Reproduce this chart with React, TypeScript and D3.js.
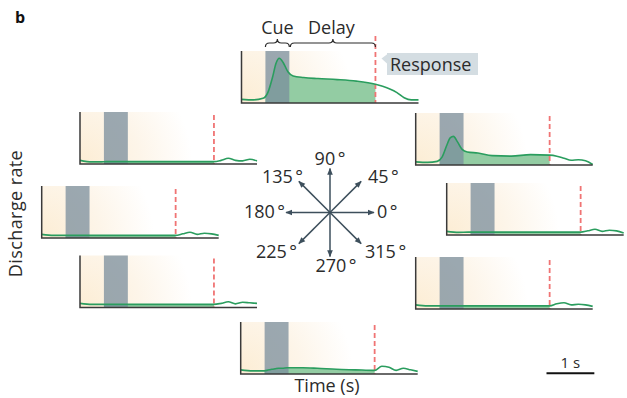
import React from 'react';
import * as d3 from 'd3';

// time axis shared by every trace (s)
const TIME = [0, 0.25, 0.45, 0.55, 0.65, 0.72, 0.79, 0.87, 0.97, 1.08, 1.3, 1.6, 2.0, 2.4, 2.8, 2.95, 3.1, 3.25, 3.4, 3.55, 3.7];
const CUE = [0.5, 1.0];
const RESPONSE = 2.8;
const T_END = 3.7;

// normalised discharge rate per direction
const RATE_90 = [0.07, 0.06, 0.09, 0.2, 0.5, 0.76, 0.86, 0.78, 0.6, 0.52, 0.49, 0.47, 0.45, 0.42, 0.36, 0.32, 0.27, 0.2, 0.1, 0.06, 0.06];
const RATE_45 = [0.06, 0.05, 0.07, 0.15, 0.38, 0.52, 0.55, 0.45, 0.3, 0.25, 0.23, 0.18, 0.17, 0.2, 0.19, 0.17, 0.13, 0.09, 0.1, 0.08, 0.01];
const RATE_135 = [0.07, 0.04, 0.04, 0.045, 0.045, 0.045, 0.045, 0.045, 0.045, 0.045, 0.045, 0.045, 0.045, 0.045, 0.045, 0.07, 0.11, 0.07, 0.06, 0.09, 0.06];
const RATE_180 = [0.07, 0.05, 0.05, 0.05, 0.05, 0.05, 0.05, 0.05, 0.05, 0.05, 0.05, 0.05, 0.05, 0.05, 0.05, 0.08, 0.11, 0.07, 0.09, 0.08, 0.05];
const RATE_0 = [0.07, 0.05, 0.055, 0.055, 0.055, 0.055, 0.055, 0.055, 0.055, 0.055, 0.055, 0.055, 0.055, 0.055, 0.055, 0.08, 0.11, 0.07, 0.09, 0.08, 0.04];
const RATE_225 = [0.08, 0.06, 0.06, 0.06, 0.06, 0.06, 0.06, 0.06, 0.06, 0.06, 0.06, 0.06, 0.06, 0.06, 0.06, 0.08, 0.11, 0.07, 0.1, 0.09, 0.08];
const RATE_315 = [0.08, 0.06, 0.06, 0.06, 0.06, 0.06, 0.06, 0.06, 0.06, 0.06, 0.06, 0.06, 0.06, 0.06, 0.06, 0.1, 0.12, 0.08, 0.09, 0.08, 0.05];
const RATE_270 = [0.08, 0.06, 0.06, 0.07, 0.09, 0.1, 0.11, 0.11, 0.12, 0.12, 0.12, 0.11, 0.09, 0.08, 0.07, 0.15, 0.13, 0.07, 0.11, 0.08, 0.05];

const DIRECTIONS = [0, 45, 90, 135, 180, 225, 270, 315];
const DIR_LABELS = ['0', '45', '90', '135', '180', '225', '270', '315'];

// panel placement (left of y axis, baseline)
const PANELS = [
  { dir: 90, rates: RATE_90, x: 241.5, y: 103 },
  { dir: 135, rates: RATE_135, x: 80, y: 164 },
  { dir: 45, rates: RATE_45, x: 415.7, y: 165 },
  { dir: 180, rates: RATE_180, x: 41.7, y: 238 },
  { dir: 0, rates: RATE_0, x: 446.7, y: 235 },
  { dir: 225, rates: RATE_225, x: 80, y: 307.5 },
  { dir: 315, rates: RATE_315, x: 415.7, y: 309 },
  { dir: 270, rates: RATE_270, x: 240.7, y: 374 },
];

// compass label offsets from centre
const LABEL_POS = {
  0: { dx: 47, dy: 5.5, anchor: 'start' },
  45: { dx: 38, dy: -30, anchor: 'start' },
  90: { dx: 0, dy: -47.5, anchor: 'middle' },
  135: { dx: -27, dy: -30, anchor: 'end' },
  180: { dx: -45, dy: 5.5, anchor: 'end' },
  225: { dx: -33, dy: 45.5, anchor: 'end' },
  270: { dx: 6, dy: 59.5, anchor: 'middle' },
  315: { dx: 35, dy: 45.5, anchor: 'start' },
};

const W = 177;
const H = 52;
const FONT = '"Open Sans", "Noto Sans", sans-serif';
const INK = '#2b2b2b';

const x = d3.scaleLinear().domain([0, T_END]).range([0, W]);
const y = d3.scaleLinear().domain([0, 1]).range([H, 0]);

const line = d3
  .line<number>()
  .x((d, i) => x(TIME[i]))
  .y((d) => y(d))
  .curve(d3.curveMonotoneX);

const area = d3
  .area<number>()
  .x((d, i) => x(TIME[i]))
  .y0(H)
  .y1((d) => y(d))
  .curve(d3.curveMonotoneX);

const brace = (x1: number, x2: number, yb: number, r: number) => {
  const m = (x1 + x2) / 2;
  return `M${x1},${yb} Q${x1},${yb - r} ${x1 + r},${yb - r} L${m - r},${yb - r} Q${m},${yb - r} ${m},${yb - 2 * r} Q${m},${yb - r} ${m + r},${yb - r} L${x2 - r},${yb - r} Q${x2},${yb - r} ${x2},${yb}`;
};

const Panel = ({ p }) => {
  const clipId = `delay-${p.dir}`;
  const top = p.dir === 90 ? -15 : 3;
  return (
    <g transform={`translate(${p.x},${p.y - H})`}>
      <defs>
        <clipPath id={clipId}>
          <rect x={x(CUE[0])} y={-5} width={x(RESPONSE) - x(CUE[0])} height={H + 5} />
        </clipPath>
      </defs>
      <rect x={0} y={0} width={W} height={H} fill="url(#bg)" />
      <path d={area(p.rates)} fill="#93cca3" clipPath={`url(#${clipId})`} />
      <rect x={x(CUE[0])} y={0} width={x(CUE[1]) - x(CUE[0])} height={H} fill="#7a8e9c" opacity={0.75} />
      <line x1={x(RESPONSE)} x2={x(RESPONSE)} y1={top} y2={H} stroke="#f07474" strokeWidth={1.8} strokeDasharray="5,3" />
      <path d={line(p.rates)} fill="none" stroke="#2a9d5e" strokeWidth={1.6} />
      <path d={`M0,0 V${H} H${W}`} fill="none" stroke="#3a3a3a" strokeWidth={1.5} />
    </g>
  );
};

export default function App() {
  const cx = 330;
  const cy = 212.5;
  const len = 44;
  const top = PANELS[0];
  const bx = (t: number) => top.x + x(t);
  const barX = 546.5;
  return (
    <svg width={627} height={398} style={{ position: 'absolute', left: 0, top: 0 }} fontFamily={FONT}>
      <defs>
        <radialGradient id="bg" gradientUnits="userSpaceOnUse" cx={0} cy={H} r={150}>
          <stop offset="0" stopColor="#fcedd4" />
          <stop offset="0.4" stopColor="#fdf5e9" />
          <stop offset="0.75" stopColor="#ffffff" />
        </radialGradient>
        <marker id="head" viewBox="0 0 10 10" refX={9} refY={5} markerWidth={7} markerHeight={7} markerUnits="userSpaceOnUse" orient="auto">
          <path d="M0,1 L10,5 L0,9 Z" fill="#3d4f5c" />
        </marker>
      </defs>

      <text x={15} y={22.7} fontSize={16} fontWeight="bold" fill="#111">b</text>

      {PANELS.map((p) => (
        <Panel key={p.dir} p={p} />
      ))}

      {/* cue / delay braces over the preferred-direction panel */}
      <path d={brace(bx(CUE[0]), bx(CUE[1]), 47, 4)} fill="none" stroke={INK} strokeWidth={1.2} />
      <path d={brace(bx(CUE[1]) + 1, bx(RESPONSE), 47, 4)} fill="none" stroke={INK} strokeWidth={1.2} />
      <text x={(bx(CUE[0]) + bx(CUE[1])) / 2} y={34} fontSize={18} textAnchor="middle" fill={INK}>Cue</text>
      <text x={(bx(CUE[1]) + bx(RESPONSE)) / 2 - 1} y={34} fontSize={18} textAnchor="middle" fill={INK}>Delay</text>

      <rect x={387} y={53} width={91} height={22} fill="#d4dde2" />
      <path d="M387.5,54 L381.5,58.5 L387.5,64 Z" fill="#d4dde2" />
      <text x={390} y={70.5} fontSize={18} fill={INK}>Response</text>

      {/* compass */}
      {DIRECTIONS.map((d, i) => {
        const a = (d * Math.PI) / 180;
        const lp = LABEL_POS[d];
        return (
          <g key={d}>
            <line x1={cx} y1={cy} x2={cx + len * Math.cos(a)} y2={cy - len * Math.sin(a)} stroke="#3d4f5c" strokeWidth={1.5} markerEnd="url(#head)" />
            <text x={cx + lp.dx} y={cy + lp.dy} fontSize={18} textAnchor={lp.anchor} fill={INK}>
              {DIR_LABELS[i]}
              <tspan dx={2.5}>°</tspan>
            </text>
          </g>
        );
      })}

      <text transform="translate(22,213.5) rotate(-90)" fontSize={18} letterSpacing={0.4} textAnchor="middle" fill={INK}>Discharge rate</text>
      <text x={327} y={391.5} fontSize={18} textAnchor="middle" fill={INK}>Time (s)</text>

      {/* 1 s scale bar */}
      <line x1={barX} x2={barX + x(1)} y1={373.3} y2={373.3} stroke="#111" strokeWidth={2} />
      <text x={barX + x(1) / 2} y={368} fontSize={15} textAnchor="middle" fill={INK}>1 s</text>
    </svg>
  );
}
